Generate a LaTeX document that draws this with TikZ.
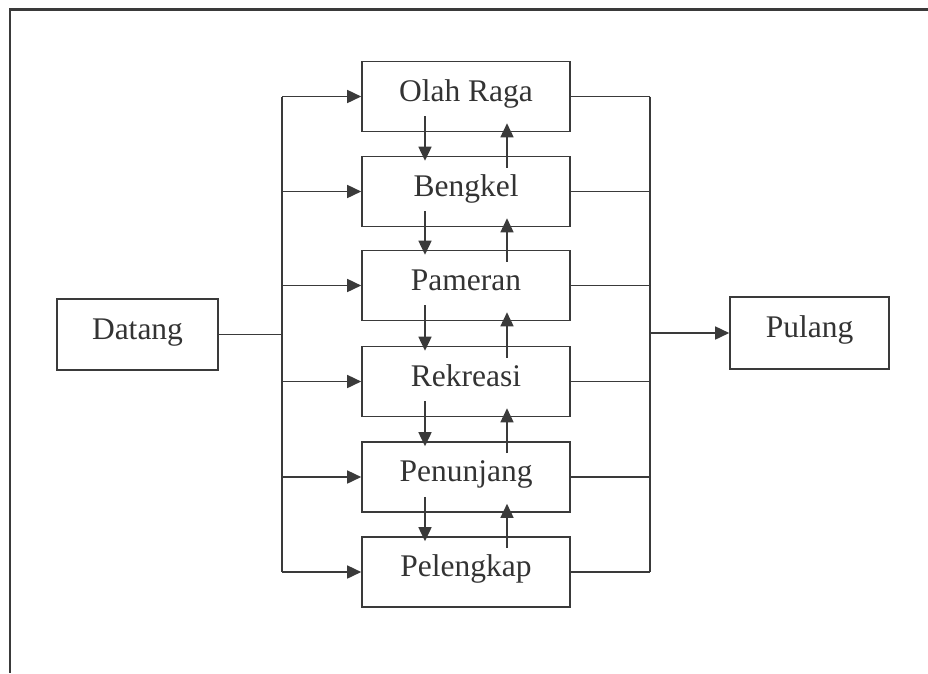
\documentclass[tikz,border=0pt]{standalone}
\usepackage{fontspec}
\setmainfont{Liberation Serif}
\usetikzlibrary{arrows.meta}
\definecolor{ink}{HTML}{3A3A3A}
\definecolor{txt}{HTML}{333333}
\begin{document}
\begin{tikzpicture}[x=1pt,y=-1pt,
  box/.style={draw=ink,line width=1.6pt,rectangle,inner sep=0pt,
    text=txt,font=\fontsize{31.5}{36}\selectfont,
    text height=20pt,text depth=11pt},
  actbox/.style={box,minimum width=208pt,minimum height=70pt},
  link/.style={draw=ink,line width=1.6pt},
  arr/.style={link,-{Triangle[length=14pt,width=13pt]}},
  frame/.style={draw=ink,line width=2.8pt}]
\useasboundingbox (0,0) rectangle (928,673);

% page frame (top and left rules)
\draw[frame] (928,9.5) -- (10,9.5) -- (10,673);

% end points
\node[box,minimum width=161pt,minimum height=71pt] (datang) at (137.5,334.5) {Datang};
\node[box,minimum width=159pt,minimum height=72pt] (pulang) at (809.5,333) {Pulang};

% activity boxes
\node[actbox] (a1) at (466,96.5)  {Olah Raga};
\node[actbox] (a2) at (466,191.5) {Bengkel};
\node[actbox] (a3) at (466,285.5) {Pameran};
\node[actbox] (a4) at (466,381.5) {Rekreasi};
\node[actbox] (a5) at (466,477)   {Penunjang};
\node[actbox] (a6) at (466,572)   {Pelengkap};

% distribution and collection buses
\coordinate (lt) at (282,96.5);
\coordinate (lb) at (282,572);
\coordinate (rt) at (650,96.5);
\coordinate (rb) at (650,572);

\draw[link] (lt) -- (lb);
\draw[link] (datang.east) -- (datang.east -| lt);
\draw[link] (rt) -- (rb);
\draw[arr] (pulang.west -| rt) -- (pulang.west);

\foreach \n in {a1,a2,a3,a4,a5,a6}{
  \draw[arr] (\n.west -| lt) -- (\n.west);
  \draw[link] (\n.east) -- (\n.east -| rt);
}

% two-way links between neighbouring boxes
\foreach \u/\l in {a1/a2,a2/a3,a3/a4,a4/a5,a5/a6}{
  \draw[arr] ([xshift=-41pt,yshift=16pt]\u.south) -- ([xshift=-41pt,yshift=-5pt]\l.north);
  \draw[arr] ([xshift=41pt,yshift=-12pt]\l.north) -- ([xshift=41pt,yshift=9pt]\u.south);
}
\end{tikzpicture}
\end{document}
